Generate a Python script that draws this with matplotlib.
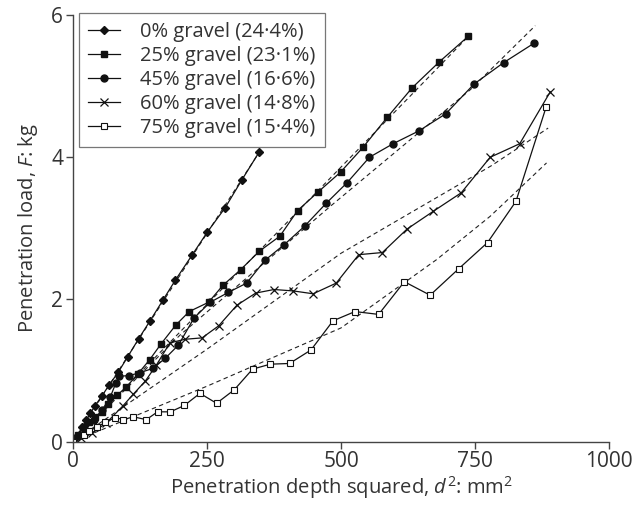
import matplotlib
matplotlib.use("Agg")
import matplotlib.pyplot as plt

plt.rcParams['font.family'] = ['Open Sans', 'DejaVu Sans']
plt.rcParams['mathtext.fontset'] = 'custom'
plt.rcParams['mathtext.rm'] = 'Open Sans'
plt.rcParams['mathtext.it'] = 'Open Sans:italic'

# 0% gravel (diamonds)
x0 = [0, 8, 17, 25, 33, 41, 54, 68, 85, 102, 123, 144, 168, 191, 222, 251, 284, 315, 348]
y0 = [0, 0.08, 0.2, 0.3, 0.4, 0.5, 0.64, 0.8, 0.98, 1.19, 1.45, 1.70, 1.99, 2.27, 2.62, 2.95, 3.29, 3.68, 4.08]

# 25% gravel (filled squares)
x25 = [0, 10, 20, 30, 41, 54, 66, 82, 100, 121, 143, 165, 192, 217, 253, 280, 313, 348,
       386, 419, 457, 499, 541, 586, 633, 683, 737]
y25 = [0, 0.1, 0.2, 0.28, 0.35, 0.42, 0.53, 0.65, 0.77, 0.95, 1.15, 1.38, 1.64, 1.83, 1.96,
       2.20, 2.42, 2.68, 2.89, 3.25, 3.51, 3.79, 4.14, 4.56, 4.98, 5.34, 5.70]

# 45% gravel (filled circles)
x45 = [0, 10, 22, 40, 55, 70, 80, 87, 105, 125, 149, 172, 197, 226, 256, 290, 324, 358,
       394, 432, 472, 511, 553, 597, 645, 695, 748, 803, 859]
y45 = [0, 0.08, 0.16, 0.3, 0.45, 0.63, 0.82, 0.92, 0.93, 0.97, 1.03, 1.17, 1.36, 1.74, 1.96,
       2.10, 2.23, 2.55, 2.77, 3.03, 3.35, 3.64, 4.00, 4.19, 4.37, 4.61, 5.03, 5.33, 5.60]

# 60% gravel (crosses)
x60 = [0, 15, 35, 62, 93, 113, 135, 156, 181, 209, 241, 272, 306, 341, 375, 411, 448, 491,
       533, 577, 623, 672, 724, 778, 833, 890]
y60 = [0, 0.05, 0.12, 0.26, 0.50, 0.67, 0.85, 1.08, 1.39, 1.44, 1.46, 1.63, 1.92, 2.09, 2.14,
       2.12, 2.08, 2.23, 2.63, 2.66, 2.99, 3.24, 3.50, 4.00, 4.19, 4.92]

# 75% gravel (open squares)
x75 = [0, 20, 30, 46, 60, 79, 94, 113, 137, 158, 182, 208, 237, 268, 301, 335, 368, 404,
       444, 485, 526, 570, 618, 666, 719, 773, 826, 882]
y75 = [0, 0.1, 0.15, 0.21, 0.27, 0.34, 0.31, 0.35, 0.31, 0.42, 0.42, 0.51, 0.68, 0.54, 0.73,
       1.02, 1.09, 1.10, 1.29, 1.70, 1.83, 1.79, 2.25, 2.06, 2.43, 2.80, 3.38, 4.70]

# fitted curves (dashed)
fx0 = [0, 350]
fy0 = [0, 4.1]
fx25 = [0, 386, 740]
fy25 = [0, 2.98, 5.72]
fx45 = [0, 200, 480, 741, 862]
fy45 = [0, 1.5, 3.31, 4.95, 5.85]
fx60 = [0, 250, 500, 780, 886]
fy60 = [0, 1.3, 2.65, 3.88, 4.41]
fx75 = [0, 250, 500, 678, 778, 883]
fy75 = [0, 0.78, 1.6, 2.56, 3.17, 3.92]

labels = ['0% gravel (24·4%)', '25% gravel (23·1%)', '45% gravel (16·6%)',
          '60% gravel (14·8%)', '75% gravel (15·4%)']

fig = plt.figure(figsize=(6.43, 5.07), dpi=100)
ax = fig.add_axes([0.1132, 0.1288, 0.8344, 0.8416])

for fx, fy in [(fx0, fy0), (fx25, fy25), (fx45, fy45), (fx60, fy60), (fx75, fy75)]:
    ax.plot(fx, fy, ls=(0, (4, 3)), color='#222222', lw=0.8)

c = '#111111'
ax.plot(x0, y0, color=c, lw=0.9, marker='D', ms=3.8, mfc=c, mec=c, label=labels[0])
ax.plot(x25, y25, color=c, lw=0.9, marker='s', ms=5, mfc=c, mec=c, label=labels[1])
ax.plot(x45, y45, color=c, lw=0.9, marker='o', ms=5, mfc=c, mec=c, label=labels[2])
ax.plot(x60, y60, color=c, lw=0.9, marker='x', ms=6, mew=0.9, mec=c, label=labels[3])
ax.plot(x75, y75, color=c, lw=0.9, marker='s', ms=4.5, mfc='white', mec=c, mew=0.8, label=labels[4])

ax.set_xlim(0, 1000)
ax.set_ylim(0, 6)
ax.set_xticks([0, 250, 500, 750, 1000])
ax.set_yticks([0, 2, 4, 6])
for s in ['top', 'right']:
    ax.spines[s].set_visible(False)
for s in ['left', 'bottom']:
    ax.spines[s].set_color('#444444')
    ax.spines[s].set_linewidth(1.0)
ax.tick_params(direction='out', length=5, width=1.0, color='#444444',
               labelsize=15, labelcolor='#333333', pad=2)

ax.set_xlabel('Penetration depth squared, $\\mathit{d}^2$: mm$^2$', fontsize=14.5, color='#333333', labelpad=1)
ax.set_ylabel('Penetration load, $\\mathit{F}$: kg', fontsize=14.5, color='#333333', labelpad=8)

leg = ax.legend(loc='upper left', bbox_to_anchor=(0.0116, 1.005), borderaxespad=0,
                fontsize=14.5, frameon=True, fancybox=False, handlelength=1.6,
                labelspacing=0.2, borderpad=0.45, handletextpad=1.0)
leg.get_frame().set_edgecolor('#555555')
leg.get_frame().set_linewidth(0.9)
for t in leg.get_texts():
    t.set_color('#333333')

fig.savefig('out.png', dpi=100)
